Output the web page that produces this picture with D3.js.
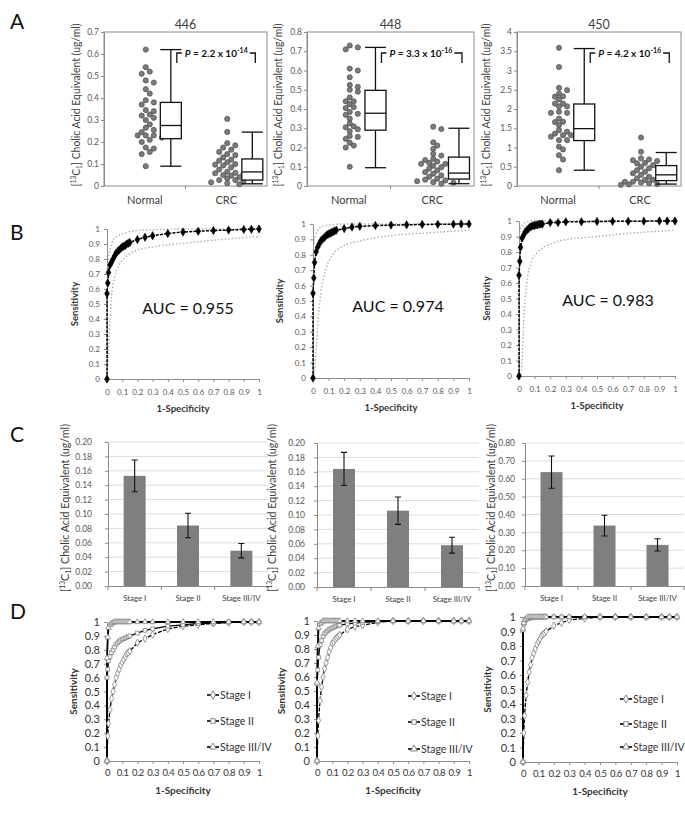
<!DOCTYPE html>
<html><head><meta charset="utf-8">
<script src="https://cdn.jsdelivr.net/npm/d3@7"></script>
<style>body{margin:0;background:#fff}svg{display:block;font-family:Lato,'Open Sans',sans-serif}</style>
</head><body><script>
// ---------- DATA ----------
const catsA = ['Normal','CRC'];
const a446Normal = [0.62,0.54,0.52,0.51,0.48,0.47,0.44,0.42,0.39,0.38,0.37,0.345,0.34,0.325,0.32,0.31,0.30,0.28,0.265,0.255,0.245,0.23,0.23,0.23,0.22,0.21,0.20,0.175,0.17,0.155,0.145,0.09];
const a446Crc = [0.305,0.246,0.195,0.185,0.175,0.165,0.155,0.145,0.14,0.13,0.12,0.115,0.108,0.1,0.097,0.093,0.085,0.075,0.065,0.06,0.058,0.055,0.05,0.047,0.04,0.035,0.027,0.027,0.02,0.017,0.012,0.008];
const box446Normal = [0.09,0.215,0.275,0.38,0.62];
const box446Crc = [0.01,0.027,0.064,0.123,0.245];
const a448Normal = [0.73,0.72,0.71,0.61,0.60,0.565,0.525,0.515,0.50,0.49,0.46,0.44,0.44,0.425,0.41,0.405,0.385,0.375,0.37,0.35,0.325,0.31,0.305,0.295,0.285,0.26,0.255,0.245,0.225,0.21,0.2,0.1];
const a448Crc = [0.308,0.296,0.227,0.21,0.193,0.167,0.158,0.141,0.135,0.127,0.12,0.115,0.115,0.105,0.098,0.09,0.081,0.072,0.064,0.055,0.048,0.038,0.033,0.029,0.025,0.02,0.017,0.012];
const box448Normal = [0.095,0.29,0.378,0.497,0.72];
const box448Crc = [0.012,0.036,0.067,0.15,0.30];
const a450Normal = [3.59,3.09,2.55,2.49,2.40,2.32,2.33,2.25,2.14,2.14,2.07,2.07,1.93,1.9,1.9,1.75,1.67,1.66,1.58,1.45,1.41,1.36,1.32,1.32,1.28,1.19,1.19,1.02,0.95,0.80,0.69,0.41];
const a450Crc = [1.26,0.89,0.72,0.69,0.67,0.65,0.6,0.59,0.54,0.5,0.46,0.41,0.37,0.33,0.29,0.24,0.2,0.16,0.16,0.11,0.11,0.09,0.07,0.05,0.04,0.03];
const box450Normal = [0.41,1.18,1.49,2.13,3.57];
const box450Crc = [0.05,0.14,0.29,0.53,0.87];
const pValues = ['2.2','3.3','4.2'];
const pExps = ['-14','-16','-16'];
const ionTitles = ['446','448','450'];

// ROC (B)
const fpr = [0,0,0.005,0.01,0.02,0.03,0.04,0.05,0.06,0.07,0.08,0.09,0.1,0.11,0.12,0.13,0.14,0.15,0.2,0.25,0.3,0.4,0.5,0.6,0.7,0.8,0.9,0.95,1];
const tpr446 = [0,0.57,0.64,0.71,0.76,0.78,0.80,0.82,0.84,0.85,0.86,0.87,0.88,0.885,0.89,0.90,0.905,0.91,0.93,0.945,0.955,0.97,0.98,0.985,0.99,0.993,0.997,0.998,1];
const tpr448 = [0,0.55,0.65,0.75,0.82,0.85,0.87,0.89,0.9,0.91,0.92,0.93,0.935,0.94,0.945,0.95,0.955,0.96,0.97,0.98,0.985,0.99,0.993,0.995,0.997,0.998,0.999,1,1];
const tpr450 = [0,0.65,0.74,0.83,0.89,0.91,0.93,0.94,0.95,0.96,0.965,0.97,0.97,0.975,0.975,0.98,0.98,0.98,0.99,0.99,0.995,0.995,0.997,0.998,0.998,0.999,1,1,1];
const aucValues = ['0.955','0.974','0.983'];
const bandX = [0,0.01,0.02,0.03,0.05,0.08,0.12,0.2,0.3,0.5,0.7,1];
const upper446 = [0.7,0.8,0.86,0.9,0.94,0.96,0.975,0.99,0.995,1,1,1];
const lower446 = [0,0.2,0.4,0.55,0.68,0.76,0.81,0.86,0.88,0.905,0.925,0.95];
const upper448 = [0.8,0.9,0.94,0.96,0.98,0.99,0.995,1,1,1,1,1];
const lower448 = [0,0.05,0.2,0.35,0.55,0.7,0.79,0.86,0.89,0.925,0.94,0.96];
const upper450 = [0.88,0.95,0.97,0.985,0.995,1,1,1,1,1,1,1];
const lower450 = [0,0,0.1,0.35,0.6,0.74,0.8,0.85,0.88,0.9,0.92,0.94];

// Bars (C)
const stages = ['Stage I','Stage II','Stage III/IV'];
const c446Mean = [0.153,0.084,0.049], c446Err = [0.022,0.017,0.010];
const c448Mean = [0.164,0.106,0.058], c448Err = [0.023,0.019,0.011];
const c450Mean = [0.637,0.338,0.230], c450Err = [0.09,0.058,0.034];

// Stage ROC (D)
const d446S1 = [0,0,0.18,0.27,0.37,0.45,0.5,0.55,0.6,0.63,0.66,0.69,0.71,0.73,0.75,0.77,0.78,0.79,0.85,0.88,0.91,0.95,0.97,0.98,0.99,0.995,1,1,1];
const d446S2 = [0,0.6,0.66,0.72,0.75,0.78,0.8,0.82,0.84,0.85,0.86,0.87,0.875,0.88,0.885,0.89,0.895,0.9,0.92,0.94,0.95,0.97,0.98,0.99,0.99,1,1,1,1];
const d446S3 = [0,0.74,0.89,0.96,0.98,0.99,0.995,1,1,1,1,1,1,1,1,1,1,1,1,1,1,1,1,1,1,1,1,1,1];
const d448S1 = [0,0,0.18,0.29,0.43,0.53,0.6,0.66,0.7,0.74,0.78,0.81,0.84,0.85,0.87,0.88,0.89,0.9,0.94,0.96,0.97,0.99,1,1,1,1,1,1,1];
const d448S2 = [0,0.55,0.65,0.74,0.83,0.86,0.89,0.91,0.92,0.93,0.94,0.945,0.95,0.955,0.96,0.965,0.97,0.97,0.98,0.985,0.99,0.995,1,1,1,1,1,1,1];
const d448S3 = [0,0.56,0.82,0.95,0.98,0.99,1,1,1,1,1,1,1,1,1,1,1,1,1,1,1,1,1,1,1,1,1,1,1];
const d450S1 = [0,0,0.2,0.32,0.46,0.55,0.62,0.67,0.72,0.75,0.78,0.81,0.83,0.85,0.87,0.88,0.89,0.9,0.94,0.96,0.98,0.99,1,1,1,1,1,1,1];
const d450S2 = [0,0.91,0.95,0.97,0.98,0.99,0.99,0.995,0.995,1,1,1,1,1,1,1,1,1,1,1,1,1,1,1,1,1,1,1,1];
const d450S3 = [0,0.92,0.96,0.98,0.99,1,1,1,1,1,1,1,1,1,1,1,1,1,1,1,1,1,1,1,1,1,1,1,1];
const rocTicks = [0,0.1,0.2,0.3,0.4,0.5,0.6,0.7,0.8,0.9,1];

// ---------- DRAW ----------
const svg = d3.select('body').append('svg').attr('width',685).attr('height',813);
svg.append('rect').attr('width',685).attr('height',813).attr('fill','#fff');
const AX = '#8c8c8c', TX = '#595959';

[['A',29],['B',240],['C',442],['D',619]].forEach(([t,y]) =>
  svg.append('text').attr('x',10).attr('y',y).attr('font-size',21).attr('fill','#111').text(t));

function styleAxis(g, fs, col){
  g.selectAll('path.domain').attr('stroke',AX);
  g.selectAll('.tick line').attr('stroke',AX);
  g.selectAll('.tick text').attr('fill',col||TX).attr('font-size',fs).attr('font-family','Lato, sans-serif');
}
function concLabel(x, cy, size, len){
  const t = svg.append('text').attr('transform',`translate(${x},${cy}) rotate(-90)`)
    .attr('text-anchor','middle').attr('font-size',size).attr('fill','#404040')
    .attr('textLength',len).attr('lengthAdjust','spacingAndGlyphs');
  t.append('tspan').text('[');
  t.append('tspan').attr('font-size',size*0.62).attr('dy',-size*0.38).text('13');
  t.append('tspan').attr('dy',size*0.38).text('C');
  t.append('tspan').attr('font-size',size*0.62).attr('dy',size*0.22).text('1');
  t.append('tspan').attr('dy',-size*0.22).text('] Cholic Acid Equivalent (ug/ml)');
}
function beeswarm(vals, y, r){
  const pts = vals.map(v => ({v, y:y(v)})).sort((a,b) => a.y-b.y);
  const placed = [];
  pts.forEach(p => {
    for (let k=0;k<30;k++){
      const off = k===0 ? 0 : (k%2 ? 1 : -1)*Math.ceil(k/2)*r*1.55;
      if (placed.every(q => Math.hypot(q.dx-off, q.y-p.y) >= 2*r*0.92)) { p.dx = off; break; }
    }
    if (p.dx === undefined) p.dx = 0;
    placed.push(p);
  });
  return pts;
}

// ----- Panel A -----
function panelA(c){
  const y = d3.scaleLinear([0,c.max],[c.y1,c.y0]);
  const x = d3.scaleBand(catsA,[c.x0,c.x1]);
  const bw = x.bandwidth();
  svg.append('rect').attr('x',c.x0).attr('y',c.y0).attr('width',c.x1-c.x0).attr('height',c.y1-c.y0)
    .attr('fill','none').attr('stroke',AX);
  const ga = svg.append('g').attr('transform',`translate(${c.x0},0)`)
    .call(d3.axisLeft(y).tickValues(d3.range(0,c.max+c.step/2,c.step)).tickSize(3).tickSizeOuter(0).tickPadding(2).tickFormat(d3.format('~g')));
  styleAxis(ga, 8.5);
  const gx = svg.append('g').attr('transform',`translate(0,${c.y1})`)
    .call(d3.axisBottom(x).tickSize(0).tickPadding(10));
  styleAxis(gx, 11, '#404040'); gx.select('path.domain').remove();
  svg.append('line').attr('x1',c.x0+bw).attr('x2',c.x0+bw).attr('y1',c.y1).attr('y2',c.y1+3).attr('stroke',AX);
  svg.append('text').attr('x',(c.x0+c.x1)/2).attr('y',29).attr('text-anchor','middle')
    .attr('font-size',12.5).attr('fill','#404040').text(c.title);
  concLabel(c.lx, 105, 11, 163);
  const boxC = {};
  [[c.dN,c.bN,'Normal'],[c.dC,c.bC,'CRC']].forEach(([vals,b,cat]) => {
    const cx0 = x(cat)+bw/2+1;
    beeswarm(vals,y,2.6).forEach(p => svg.append('circle').attr('cx',cx0+p.dx).attr('cy',p.y).attr('r',2.6)
      .attr('fill','#7b7b7b').attr('stroke','#4d4d4d').attr('stroke-width',0.7));
    const cx = x(cat)+bw*0.82, w = 21;
    boxC[cat] = cx;
    const L = (x1,x2,y1,y2) => svg.append('line').attr('x1',x1).attr('x2',x2).attr('y1',y1).attr('y2',y2).attr('stroke','#111').attr('stroke-width',1.3);
    L(cx,cx,y(b[0]),y(b[1])); L(cx,cx,y(b[3]),y(b[4]));
    L(cx-w/2,cx+w/2,y(b[0]),y(b[0])); L(cx-w/2,cx+w/2,y(b[4]),y(b[4]));
    svg.append('rect').attr('x',cx-w/2).attr('y',y(b[3])).attr('width',w).attr('height',y(b[1])-y(b[3]))
      .attr('fill','#fff').attr('stroke','#111').attr('stroke-width',1.3);
    L(cx-w/2,cx+w/2,y(b[2]),y(b[2]));
  });
  const xL = boxC.Normal+6, xR = boxC.CRC+3, yT = 53, yB = 63;
  const t = svg.append('text').attr('x',xL+8).attr('y',yT+3.5).attr('font-size',10).attr('font-weight','bold').attr('fill','#111');
  t.append('tspan').attr('font-style','italic').text('P');
  t.append('tspan').text(' = '+c.p+' x 10');
  t.append('tspan').attr('font-size',7).attr('dy',-4).text(c.exp);
  const tw = t.node().getComputedTextLength();
  svg.append('path').attr('d',`M${xL},${yB}V${yT}H${xL+5}M${xL+10+tw},${yT}H${xR}V${yB}`)
    .attr('fill','none').attr('stroke','#111').attr('stroke-width',1.3);
}
panelA({x0:104,x1:267,y0:32,y1:186,max:0.7,step:0.1,dN:a446Normal,dC:a446Crc,bN:box446Normal,bC:box446Crc,title:ionTitles[0],p:pValues[0],exp:pExps[0],lx:80});
panelA({x0:307,x1:474,y0:32,y1:186,max:0.8,step:0.1,dN:a448Normal,dC:a448Crc,bN:box448Normal,bC:box448Crc,title:ionTitles[1],p:pValues[1],exp:pExps[1],lx:282});
panelA({x0:517,x1:681,y0:32,y1:186,max:4,step:0.5,dN:a450Normal,dC:a450Crc,bN:box450Normal,bC:box450Crc,title:ionTitles[2],p:pValues[2],exp:pExps[2],lx:490});

// ----- ROC axes helper -----
function rocAxes(c, fs, lfs, labOff, big){
  const x = d3.scaleLinear([0,1],[c.x0,c.x1]);
  const y = d3.scaleLinear([0,1],[c.y1,c.y0]);
  const gx = svg.append('g').attr('transform',`translate(0,${c.y1})`)
    .call(d3.axisBottom(x).tickValues(rocTicks).tickSize(3).tickSizeOuter(0).tickPadding(big?5:7).tickFormat(d3.format('~g')));
  styleAxis(gx, fs, big?'#333':TX);
  if (big) gx.selectAll('.tick text').attr('letter-spacing',-0.5);
  const gy = svg.append('g').attr('transform',`translate(${c.x0},0)`)
    .call(d3.axisLeft(y).tickValues(rocTicks).tickSize(3).tickSizeOuter(0).tickPadding(4).tickFormat(d3.format('~g')));
  styleAxis(gy, big?11:fs, big?'#333':TX);
  svg.append('text').attr('x',(c.x0+c.x1)/2).attr('y',c.y1+labOff).attr('text-anchor','middle')
    .attr('font-size',lfs).attr('font-weight','bold').attr('fill','#333').text('1-Specificity');
  svg.append('text').attr('transform',`translate(${c.lx},${(c.y0+c.y1)/2}) rotate(-90)`).attr('text-anchor','middle')
    .attr('font-size',lfs).attr('font-weight','bold').attr('fill','#333').text('Sensitivity');
  return {x,y};
}

// ----- Panel B -----
function panelB(c){
  const {x,y} = rocAxes(c, 8, 9.5, 33, false);
  const band = d3.line().x((d,i) => x(bandX[i])).y(d => y(d)).curve(d3.curveMonotoneX);
  [c.hi,c.lo].forEach(arr => svg.append('path').attr('d',band(arr)).attr('fill','none')
    .attr('stroke','#b0b0b0').attr('stroke-width',1.4).attr('stroke-dasharray','1.5,2'));
  const line = d3.line().x((d,i) => x(fpr[i])).y(d => y(d));
  svg.append('path').attr('d',line(c.tpr)).attr('fill','none').attr('stroke','#000').attr('stroke-width',1.5).attr('stroke-dasharray','3,1.2');
  const sym = d3.symbol(d3.symbolDiamond, 20);
  c.tpr.forEach((v,i) => svg.append('path').attr('d',sym()).attr('transform',`translate(${x(fpr[i])},${y(v)})`)
    .attr('fill','#000').attr('stroke','#000').attr('stroke-width',0.5));
  svg.append('text').attr('x',c.ax).attr('y',c.ay+6).attr('text-anchor','middle').attr('font-size',16)
    .attr('fill','#111').text('AUC = '+c.auc);
}
panelB({x0:107,x1:259,y0:229,y1:379,lx:78,tpr:tpr446,hi:upper446,lo:lower446,auc:aucValues[0],ax:188,ay:308});
panelB({x0:313,x1:469,y0:224,y1:378,lx:283,tpr:tpr448,hi:upper448,lo:lower448,auc:aucValues[1],ax:398,ay:306});
panelB({x0:519,x1:675,y0:221,y1:376,lx:490,tpr:tpr450,hi:upper450,lo:lower450,auc:aucValues[2],ax:608,ay:300});

// ----- Panel C -----
function panelC(c){
  const x = d3.scaleBand(stages,[c.x0,c.x1]);
  const y = d3.scaleLinear([0,c.max],[c.y1,c.y0]);
  const ticks = d3.range(0,c.max+c.step/2,c.step);
  ticks.slice(1).forEach(t => svg.append('line').attr('x1',c.x0).attr('x2',c.x1).attr('y1',y(t)).attr('y2',y(t))
    .attr('stroke','#dcdcdc').attr('stroke-width',1));
  const gy = svg.append('g').attr('transform',`translate(${c.x0},0)`)
    .call(d3.axisLeft(y).tickValues(ticks).tickSize(3).tickSizeOuter(0).tickPadding(c.pad).tickFormat(d3.format('.2f')));
  styleAxis(gy, 8.5);
  const gx = svg.append('g').attr('transform',`translate(0,${c.y1})`)
    .call(d3.axisBottom(x).tickSize(0).tickPadding(9));
  styleAxis(gx, 7.8, '#404040');
  const bw = x.bandwidth();
  [0,1,2,3].forEach(i => svg.append('line').attr('x1',c.x0+i*bw).attr('x2',c.x0+i*bw).attr('y1',c.y1).attr('y2',c.y1+4).attr('stroke',AX));
  c.mean.forEach((m,i) => {
    const cx = x(stages[i])+bw/2;
    svg.append('rect').attr('x',cx-11).attr('y',y(m)).attr('width',22).attr('height',y(0)-y(m)).attr('fill','#7f7f7f');
    const e = c.err[i];
    svg.append('path').attr('d',`M${cx},${y(m-e)}V${y(m+e)}M${cx-3},${y(m-e)}H${cx+3}M${cx-3},${y(m+e)}H${cx+3}`)
      .attr('stroke','#111').attr('stroke-width',1.1).attr('fill','none');
  });
  concLabel(c.lx, 508, 11, 168);
}
panelC({x0:108,x1:268,y0:442,y1:586,max:0.2,step:0.02,mean:c446Mean,err:c446Err,lx:69,pad:13});
panelC({x0:317,x1:479,y0:443,y1:587,max:0.2,step:0.02,mean:c448Mean,err:c448Err,lx:276,pad:9});
panelC({x0:525,x1:684,y0:443,y1:586,max:0.8,step:0.1,mean:c450Mean,err:c450Err,lx:495,pad:7});

// ----- Panel D -----
const dSyms = [d3.symbolDiamond, d3.symbolSquare, d3.symbolTriangle];
const dSize = [16, 14, 14];
const dDash = ['4,1.5', null, null];
const dWidth = [1.3, 1.3, 1.8];
function panelD(c){
  const {x,y} = rocAxes(c, 9.5, 10, 33, true);
  const line = d3.line().x((d,i) => x(fpr[i])).y(d => y(d));
  c.series.forEach((s,k) => {
    svg.append('path').attr('d',line(s)).attr('fill','none').attr('stroke','#000')
      .attr('stroke-width',dWidth[k]).attr('stroke-dasharray',dDash[k]);
  });
  c.series.forEach((s,k) => {
    const sym = d3.symbol(dSyms[k], dSize[k]);
    s.forEach((v,i) => svg.append('path').attr('d',sym()).attr('transform',`translate(${x(fpr[i])},${y(v)})`)
      .attr('fill','#fff').attr('stroke','#808080').attr('stroke-width',0.8));
  });
  stages.forEach((st,k) => {
    const ly = c.ly[k];
    svg.append('line').attr('x1',c.lgx).attr('x2',c.lgx+12).attr('y1',ly).attr('y2',ly).attr('stroke','#000').attr('stroke-width',1.6);
    svg.append('path').attr('d',d3.symbol(dSyms[k],20)()).attr('transform',`translate(${c.lgx+6},${ly})`)
      .attr('fill','#fff').attr('stroke','#7a7a7a').attr('stroke-width',0.9);
    svg.append('text').attr('x',c.lgx+13).attr('y',ly+3.8).attr('font-size',10.5).attr('fill','#333').text(st);
  });
}
panelD({x0:107,x1:259,y0:622,y1:761,lx:77,series:[d446S1,d446S2,d446S3],lgx:207,ly:[695,721,747]});
panelD({x0:317,x1:469,y0:621,y1:761,lx:285,series:[d448S1,d448S2,d448S3],lgx:408,ly:[696,722,749]});
panelD({x0:523,x1:677,y0:617,y1:762,lx:491,series:[d450S1,d450S2,d450S3],lgx:620,ly:[699,724,747]});
</script></body></html>
